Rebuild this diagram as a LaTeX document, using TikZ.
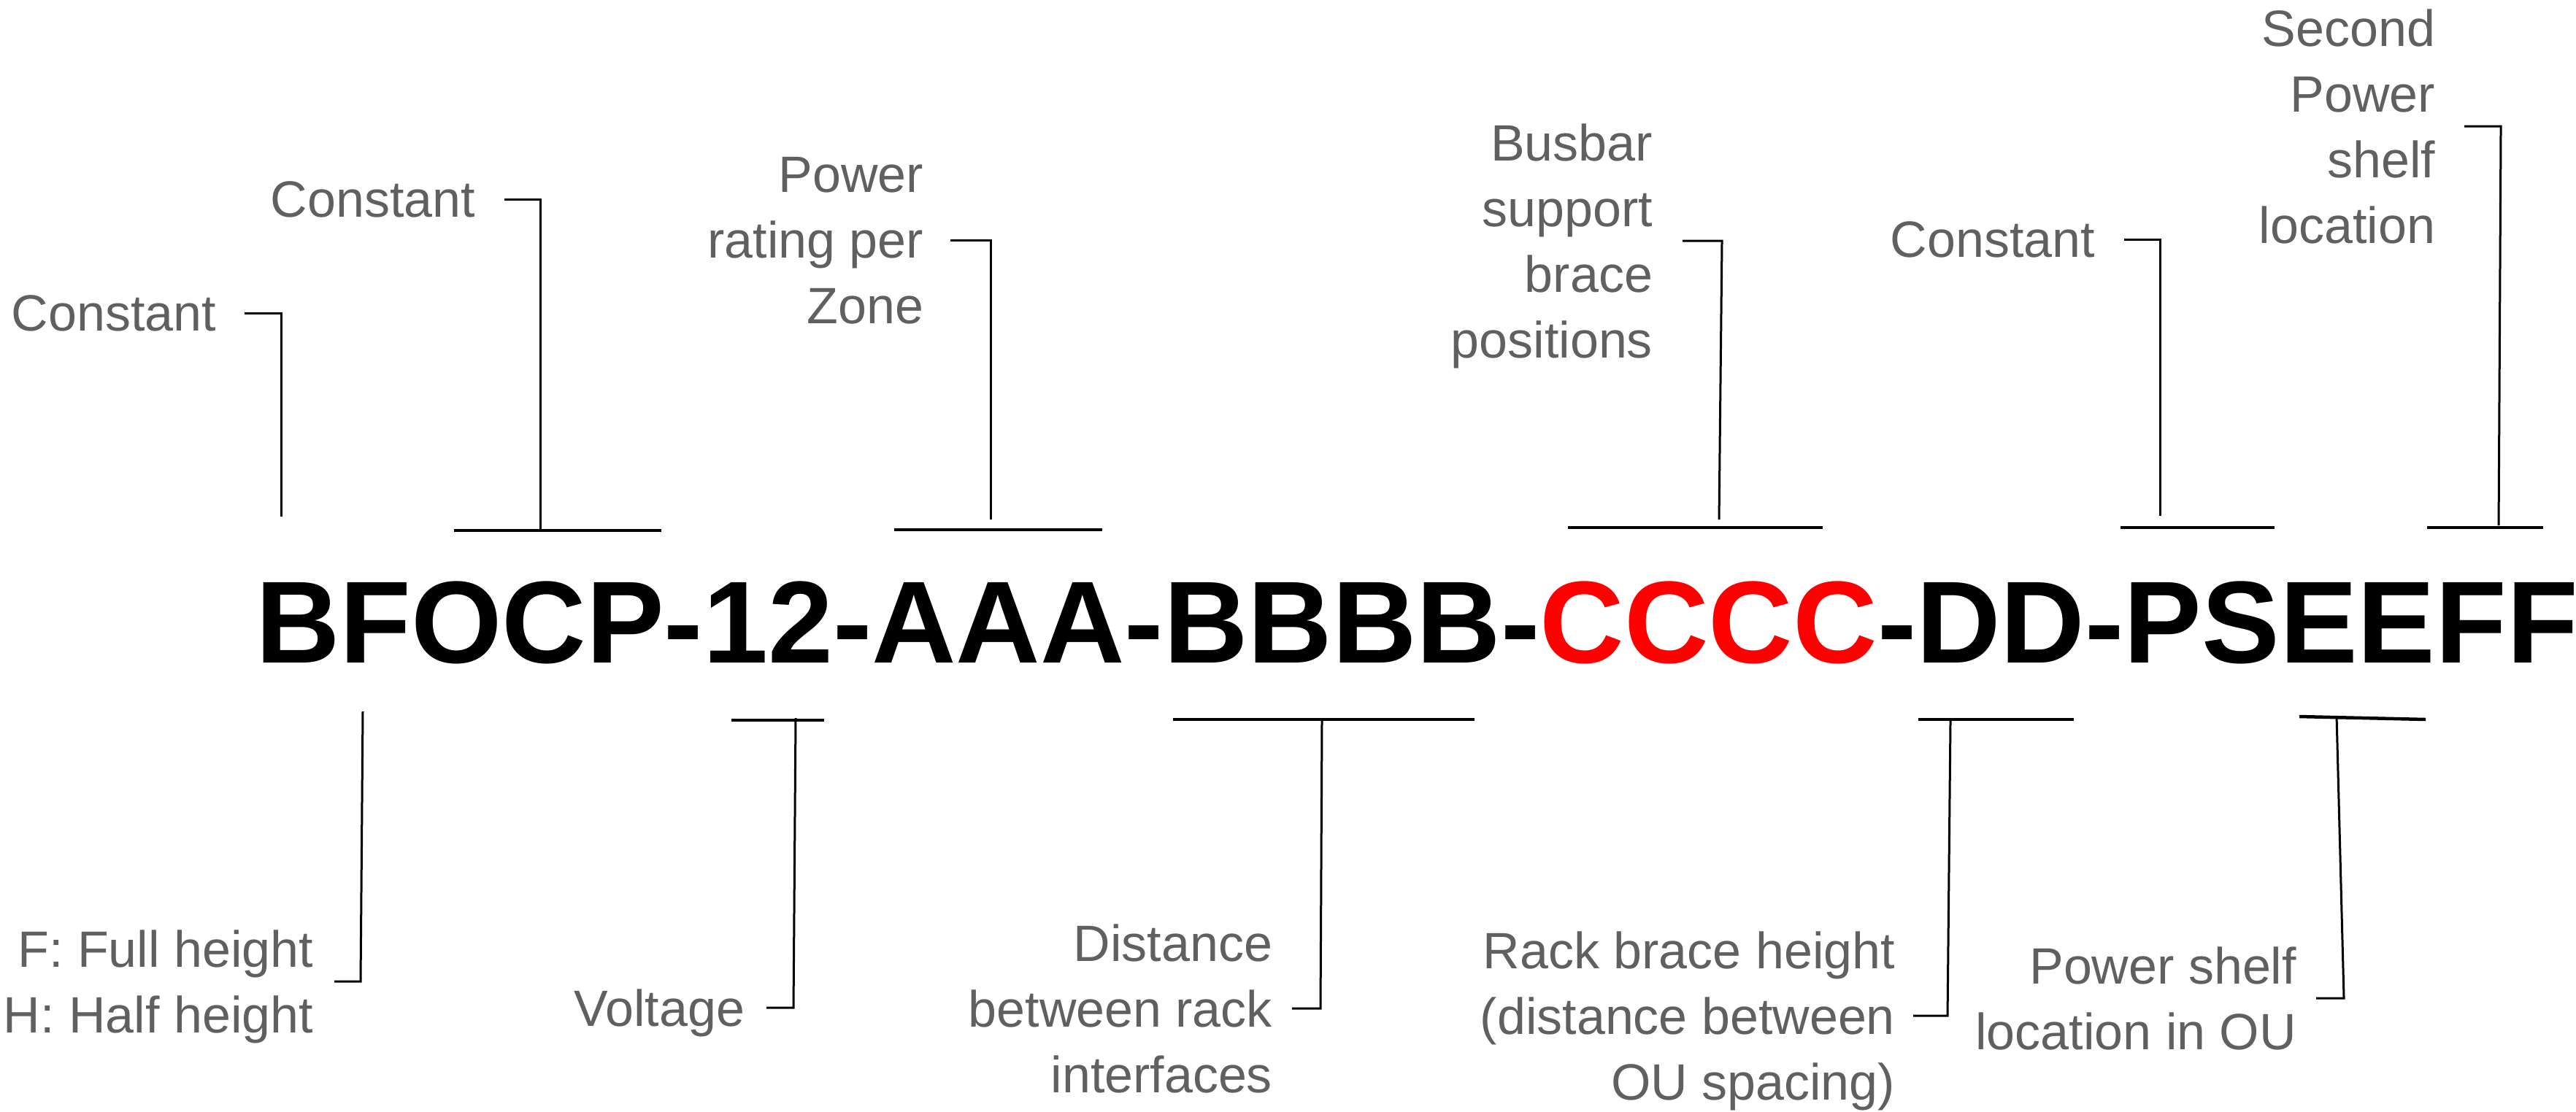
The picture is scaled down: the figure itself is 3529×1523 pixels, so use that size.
\documentclass[tikz,border=0pt]{standalone}
\usepackage{fontspec}
\setmainfont{Liberation Sans}
\usetikzlibrary{calc}
\definecolor{labgray}{RGB}{95,96,98}
\definecolor{codered}{RGB}{255,0,0}
\begin{document}
\begin{tikzpicture}[x=0.1pt,y=-0.1pt,
  lab/.style={font=\fontsize{7}{9}\selectfont, text=labgray, align=right, inner sep=0pt, text depth=0pt, anchor=east},
  arm/.style={line width=0.3pt, draw=black},
  bar/.style={line width=0.45pt, draw=black}]
\useasboundingbox (0,0) rectangle (3529,1523);

% main code
\node[anchor=base west, inner sep=0pt, font=\fontsize{16}{19}\selectfont\bfseries] (code) at (348,908)
  {BFOCP-12-AAA-BBBB-\textcolor{codered}{CCCC}-DD-PSEEFF};

% top labels
\node[lab] (t1) at (298,429) {Constant};
\node[lab] (t2) at (653,273) {Constant};
\node[lab] (t3) at (1267,329) {Power\\rating per\\Zone};
\node[lab] (t4) at (2266,330) {Busbar\\support\\brace\\positions};
\node[lab] (t5) at (2872,328) {Constant};
\node[lab] (t6) at (3338,173) {Second\\Power\\shelf\\location};

% bottom labels
\node[lab] (b1) at (431,1345) {F: Full height\\H: Half height};
\node[lab] (b2) at (1022,1381) {Voltage};
\node[lab] (b3) at (1745,1382) {Distance\\between rack\\interfaces};
\node[lab] (b4) at (2598,1392) {Rack brace height\\(distance between\\OU spacing)};
\node[lab] (b5) at (3148,1368) {Power shelf\\location in OU};

% corner and end coordinates
\coordinate (t1c) at (385,429);   \coordinate (t1e) at (385,708);
\coordinate (t2c) at (740,273);   \coordinate (t2e) at (740,727);
\coordinate (t3c) at (1357,329);  \coordinate (t3e) at (1357,712);
\coordinate (t4c) at (2359,330);  \coordinate (t4e) at (2355,712);
\coordinate (t5c) at (2959,328);  \coordinate (t5e) at (2959,707);
\coordinate (t6c) at (3426,173);  \coordinate (t6e) at (3423,720);
\coordinate (b1c) at (494,1345);  \coordinate (b1e) at (497,975);
\coordinate (b2c) at (1087,1381); \coordinate (b2e) at (1090,984);
\coordinate (b3c) at (1809,1382); \coordinate (b3e) at (1811,986);
\coordinate (b4c) at (2668,1392); \coordinate (b4e) at (2672,988);
\coordinate (b5c) at (3211,1368); \coordinate (b5e) at (3201,982);

% bar ends
\coordinate (t2l) at (622,727);   \coordinate (t2r) at (906,727);
\coordinate (t3l) at (1225,726);  \coordinate (t3r) at (1510,726);
\coordinate (t4l) at (2148,723);  \coordinate (t4r) at (2497,723);
\coordinate (t5l) at (2905,723);  \coordinate (t5r) at (3116,723);
\coordinate (t6l) at (3325,723);  \coordinate (t6r) at (3484,723);
\coordinate (b2l) at (1002,987);  \coordinate (b2r) at (1129,987);
\coordinate (b3l) at (1607,986);  \coordinate (b3r) at (2020,986);
\coordinate (b4l) at (2628,986);  \coordinate (b4r) at (2841,986);
\coordinate (b5l) at (3150,982);  \coordinate (b5r) at (3323,986);

% connectors
\draw[arm] ($(t1.east)+(37,0)$) -- (t1c) -- (t1e);
\draw[arm] ($(t2.east)+(38,0)$) -- (t2c) -- (t2e);
\draw[arm] ($(t3.east)+(35,0)$) -- (t3c) -- (t3e);
\draw[arm] ($(t4.east)+(39,0)$) -- (t4c) -- (t4e);
\draw[arm] ($(t5.east)+(38,0)$) -- (t5c) -- (t5e);
\draw[arm] ($(t6.east)+(38,0)$) -- (t6c) -- (t6e);
\draw[arm] ($(b1.east)+(27,0)$) -- (b1c) -- (b1e);
\draw[arm] ($(b2.east)+(28,0)$) -- (b2c) -- (b2e);
\draw[arm] ($(b3.east)+(25,0)$) -- (b3c) -- (b3e);
\draw[arm] ($(b4.east)+(23,0)$) -- (b4c) -- (b4e);
\draw[arm] ($(b5.east)+(25,0)$) -- (b5c) -- (b5e);

% bars
\draw[bar] (t2l) -- (t2r);
\draw[bar] (t3l) -- (t3r);
\draw[bar] (t4l) -- (t4r);
\draw[bar] (t5l) -- (t5r);
\draw[bar] (t6l) -- (t6r);
\draw[bar] (b2l) -- (b2r);
\draw[bar] (b3l) -- (b3r);
\draw[bar] (b4l) -- (b4r);
\draw[bar] (b5l) -- (b5r);
\end{tikzpicture}
\end{document}
